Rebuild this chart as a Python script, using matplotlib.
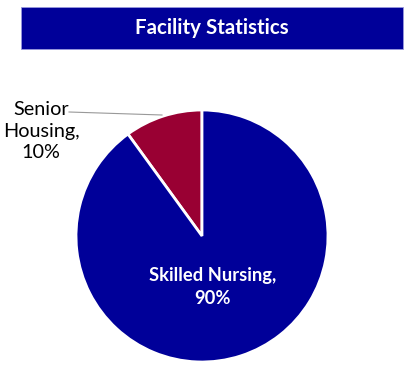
import matplotlib.pyplot as plt
from matplotlib.patches import Rectangle

# data
categories = ['Senior Housing', 'Skilled Nursing']
shares = [10, 90]
colors = ['#990033', '#000099']
title = 'Facility Statistics'

W, H = 412, 383
plt.rcParams['font.family'] = ['Lato', 'DejaVu Sans']

fig = plt.figure(figsize=(W / 100, H / 100), dpi=100)
ax = fig.add_axes([0, 0, 1, 1])

# title bar
ax.add_patch(Rectangle((21, H - 49), 382, 42, facecolor='#000099',
                       edgecolor='#9999dd', linewidth=0.6))
ax.text(212, H - 28, title, color='white', fontsize=14.8, fontweight='bold',
        ha='center', va='center')

# pie
cx, cy, r = 202, H - 236, 126
wedges, _ = ax.pie(shares, colors=colors, startangle=90, counterclock=True,
                   center=(cx, cy), radius=r, frame=True,
                   wedgeprops=dict(edgecolor='white', linewidth=2))
ax.set_xlim(0, W)
ax.set_ylim(0, H)
ax.set_aspect('equal')
ax.axis('off')

ax.text(41, H - 131, f'Senior\nHousing,\n{shares[0]}%', fontsize=14.3,
        ha='center', va='center', linespacing=1.35, color='black')
ax.plot([69, 162], [H - 112, H - 115], color='#999999', linewidth=0.8)

ax.text(213, H - 287, f'Skilled Nursing,\n{shares[1]}%', fontsize=13.2,
        fontweight='bold', color='white', ha='center', va='center',
        linespacing=1.4)

fig.savefig('out.png', dpi=100)
